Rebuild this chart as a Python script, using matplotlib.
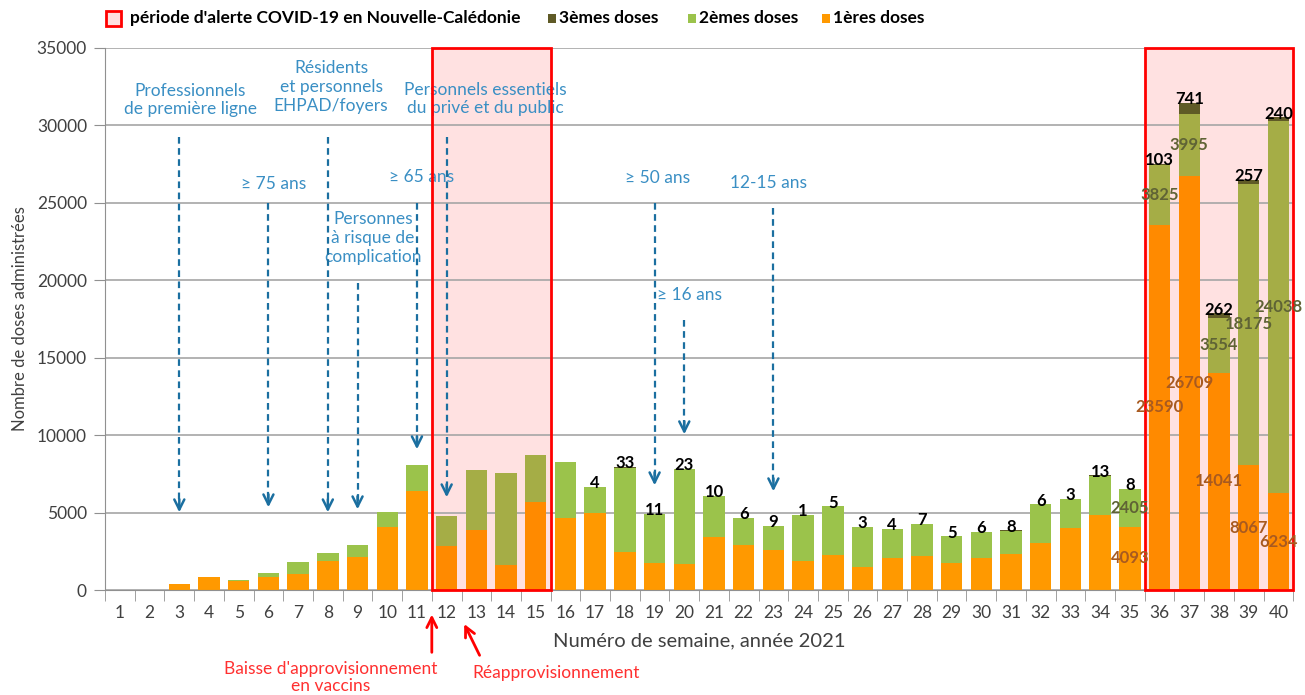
import numpy as np
import matplotlib
matplotlib.use('Agg')
import matplotlib.pyplot as plt
from matplotlib.patches import Rectangle

plt.rcParams['font.family'] = ['Lato', 'DejaVu Sans']

# données
semaines = list(range(1, 41))
doses1 = [0, 0, 370, 860, 560, 840, 1050, 1850, 2130, 4070, 6370, 2860, 3875, 1590, 5680,
          4670, 4950, 2475, 1720, 1655, 3400, 2930, 2600, 1870, 2260, 1510, 2045, 2195,
          1720, 2045, 2325, 3015, 4025, 4865, 4093, 23590, 26709, 14041, 8067, 6234]
doses2 = [0, 0, 0, 0, 85, 260, 740, 540, 770, 960, 1720, 1940, 3875, 5965, 3020,
          3620, 1676, 5432, 3199, 6132, 2680, 1714, 1521, 2994, 3135, 2557, 1871, 2058,
          1740, 1674, 1517, 2509, 1847, 2522, 2405, 3825, 3995, 3554, 18175, 24038]
doses3 = [0] * 16 + [4, 33, 11, 23, 10, 6, 9, 1, 5, 3, 4, 7, 5, 6, 8, 6, 3, 13, 8,
                     103, 741, 262, 257, 240]
alertes = [(12, 15), (36, 40)]
semaines_etiquetees = [35, 36, 37, 38, 39, 40]

cibles = ["Professionnels\nde première ligne", "≥ 75 ans", "Résidents\net personnels\nEHPAD/foyers",
          "Personnes\nà risque de\ncomplication", "≥ 65 ans",
          "Personnels essentiels\ndu privé et du public", "≥ 50 ans", "≥ 16 ans", "12-15 ans"]
cible_semaines = [3, 6, 8, 9, 11, 12, 19, 20, 23]
cible_debut = [29250, 24990, 29250, 19824, 24990, 29250, 24990, 17435, 24667]
cible_fin = [4843, 5166, 4843, 5037, 8911, 5812, 6587, 9880, 6200]
texte_x = [3.36, 6.16, 8.11, 9.52, 11.17, 13.29, 19.09, 20.16, 22.82]
texte_y = [31640, 26217, 32480, 22730, 26670, 31705, 26600, 19050, 26280]

c1, c1a = '#FF9900', '#FF8A00'
c2, c2a = '#9BC34B', '#A5AD46'
c3 = '#5F5A26'
bleu_txt, bleu_fl = '#3A8FC4', '#1B6FA0'
gris = '#404040'

def en_alerte(s):
    return any(a <= s <= b for a, b in alertes)

fig = plt.figure(figsize=(13.05, 6.95), dpi=100)
ax = fig.add_axes([0.0805, 0.151, 0.9105, 0.780])

x = np.array(semaines)
d1 = np.array(doses1)
d2 = np.array(doses2)
d3 = np.array(doses3)
col1 = [c1a if en_alerte(s) else c1 for s in semaines]
col2 = [c2a if en_alerte(s) else c2 for s in semaines]
w = 0.72
ax.bar(x, d1, w, color=col1, zorder=2)
ax.bar(x, d2, w, bottom=d1, color=col2, zorder=2)
ax.bar(x, d3, w, bottom=d1 + d2, color=c3, zorder=2)

# périodes d'alerte
for a, b in alertes:
    ax.add_patch(Rectangle((a - 0.5, 0), b - a + 1, 35000, facecolor='#FFE1E1',
                           edgecolor='none', zorder=0.2))
    ax.add_patch(Rectangle((a - 0.5, 0), b - a + 1, 35000, facecolor='none',
                           edgecolor='#FF0000', lw=2, zorder=6, clip_on=False))

# étiquettes 3èmes doses
for s, a, b, c in zip(semaines, d1, d2, d3):
    if c > 0:
        ax.text(s, a + b + c + 250, str(c), ha='center', va='center', fontsize=12,
                fontweight='bold', color='black', zorder=7)
for s in semaines_etiquetees:
    i = s - 1
    ax.text(s, d1[i] / 2, str(d1[i]), ha='center', va='center', fontsize=12,
            fontweight='bold', color='#A85A20', zorder=7)
    ax.text(s, d1[i] + d2[i] / 2, str(d2[i]), ha='center', va='center', fontsize=12,
            fontweight='bold', color='#5F6335', zorder=7)

# cibles vaccinales
for s, y0, y1 in zip(cible_semaines, cible_debut, cible_fin):
    ax.plot([s, s], [y0, y1 + 300], color=bleu_fl, lw=1.6, ls=(0, (3, 2)), zorder=5)
    ax.annotate('', xy=(s, y1), xytext=(s, y1 + 1200),
                arrowprops=dict(arrowstyle='->', color=bleu_fl, lw=1.8, mutation_scale=18),
                zorder=5)
for t, tx, ty in zip(cibles, texte_x, texte_y):
    ax.text(tx, ty, t, ha='center', va='center', fontsize=12.5, color=bleu_txt,
            linespacing=1.2, zorder=4)

# approvisionnement
ax.annotate('', xy=(11.5, -0.04), xytext=(11.5, -0.12),
            xycoords=('data', 'axes fraction'),
            arrowprops=dict(arrowstyle='->', color='#FF0000', lw=2, mutation_scale=18))
ax.annotate('', xy=(12.55, -0.058), xytext=(13.15, -0.125),
            xycoords=('data', 'axes fraction'),
            arrowprops=dict(arrowstyle='->', color='#FF0000', lw=2, mutation_scale=18))
ax.text(8.08, -0.161, "Baisse d'approvisionnement\nen vaccins", transform=ax.get_xaxis_transform(),
        ha='center', va='center', fontsize=12.5, color='#FF3030', linespacing=1.1)
ax.text(15.67, -0.153, "Réapprovisionnement", transform=ax.get_xaxis_transform(),
        ha='center', va='center', fontsize=12.5, color='#FF3030')

ax.set_xlim(0.5, 40.5)
ax.set_ylim(0, 35000)
ax.set_yticks(np.arange(0, 35001, 5000))
ax.set_xticks(x)
ax.set_xticks(np.arange(0.5, 41, 1), minor=True)
ax.tick_params(axis='x', which='major', length=0, pad=11, labelsize=12.5, labelcolor=gris)
ax.tick_params(axis='x', which='minor', length=8, color='#909090')
ax.tick_params(axis='y', length=8, color='#909090', labelsize=12.5, labelcolor=gris, pad=5)
ax.grid(axis='y', color='#A6A6A6', lw=1.2)
ax.set_axisbelow(True)
for sp in ['top', 'right']:
    ax.spines[sp].set_visible(False)
for sp in ['left', 'bottom']:
    ax.spines[sp].set_color('#909090')
ax.set_xlabel('Numéro de semaine, année 2021', fontsize=14.5, color=gris, labelpad=8)
ax.set_ylabel('Nombre de doses administrées', fontsize=12, color=gris, labelpad=6)

# légende
fig.patches.append(Rectangle((106 / 1305, 1 - 26 / 695), 15 / 1305, 15 / 695,
                             transform=fig.transFigure, facecolor='#FFE1E1',
                             edgecolor='#FF0000', lw=2))
fig.text(130 / 1305, 1 - 18 / 695, "période d'alerte COVID-19 en Nouvelle-Calédonie",
         fontsize=12.5, fontweight='bold', va='center', color='black')
for px, c, lab in [(548, c3, '3èmes doses'), (688, c2, '2èmes doses'), (822, c1, '1ères doses')]:
    fig.patches.append(Rectangle((px / 1305, 1 - 23 / 695), 8 / 1305, 9 / 695,
                                 transform=fig.transFigure, facecolor=c, edgecolor='none'))
    fig.text((px + 11) / 1305, 1 - 18 / 695, lab, fontsize=12.5, fontweight='bold',
             va='center', color='black')

fig.savefig('out.png', dpi=100)
